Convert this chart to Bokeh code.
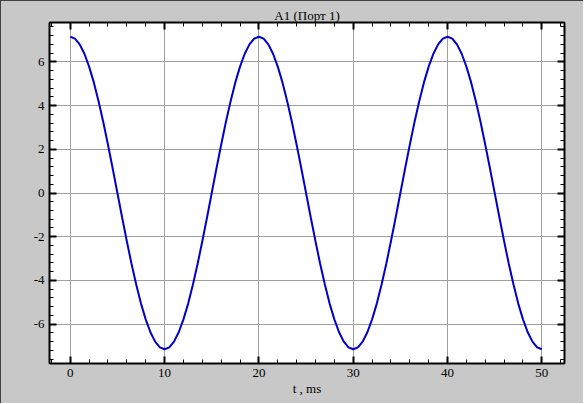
from bokeh.plotting import figure
from bokeh.models import LinearAxis, SingleIntervalTicker, Range1d, CustomJSTickFormatter
from bokeh.embed import file_html
from bokeh.resources import INLINE

title_text = "A1 (Порт 1)"
x_label = "t , ms"

t_ms = [0.0, 0.5, 1.0, 1.5, 2.0, 2.5, 3.0, 3.5, 4.0, 4.5,
        5.0, 5.5, 6.0, 6.5, 7.0, 7.5, 8.0, 8.5, 9.0, 9.5,
        10.0, 10.5, 11.0, 11.5, 12.0, 12.5, 13.0, 13.5, 14.0, 14.5,
        15.0, 15.5, 16.0, 16.5, 17.0, 17.5, 18.0, 18.5, 19.0, 19.5,
        20.0, 20.5, 21.0, 21.5, 22.0, 22.5, 23.0, 23.5, 24.0, 24.5,
        25.0, 25.5, 26.0, 26.5, 27.0, 27.5, 28.0, 28.5, 29.0, 29.5,
        30.0, 30.5, 31.0, 31.5, 32.0, 32.5, 33.0, 33.5, 34.0, 34.5,
        35.0, 35.5, 36.0, 36.5, 37.0, 37.5, 38.0, 38.5, 39.0, 39.5,
        40.0, 40.5, 41.0, 41.5, 42.0, 42.5, 43.0, 43.5, 44.0, 44.5,
        45.0, 45.5, 46.0, 46.5, 47.0, 47.5, 48.0, 48.5, 49.0, 49.5,
        50.0]

a1_values = [7.15, 7.06, 6.80, 6.37, 5.78, 5.06, 4.20, 3.25, 2.21, 1.12,
             0.00, -1.12, -2.21, -3.25, -4.20, -5.06, -5.78, -6.37, -6.80, -7.06,
             -7.15, -7.06, -6.80, -6.37, -5.78, -5.06, -4.20, -3.25, -2.21, -1.12,
             0.00, 1.12, 2.21, 3.25, 4.20, 5.06, 5.78, 6.37, 6.80, 7.06,
             7.15, 7.06, 6.80, 6.37, 5.78, 5.06, 4.20, 3.25, 2.21, 1.12,
             0.00, -1.12, -2.21, -3.25, -4.20, -5.06, -5.78, -6.37, -6.80, -7.06,
             -7.15, -7.06, -6.80, -6.37, -5.78, -5.06, -4.20, -3.25, -2.21, -1.12,
             0.00, 1.12, 2.21, 3.25, 4.20, 5.06, 5.78, 6.37, 6.80, 7.06,
             7.15, 7.06, 6.80, 6.37, 5.78, 5.06, 4.20, 3.25, 2.21, 1.12,
             0.00, -1.12, -2.21, -3.25, -4.20, -5.06, -5.78, -6.37, -6.80, -7.06,
             -7.15]

FONT = "Liberation Serif"
BG = "#c8c8c8"

p = figure(width=583, height=403, x_range=Range1d(-2.2, 52.4), y_range=Range1d(-7.8, 7.8),
           output_backend="svg", toolbar_location=None,
           min_border_left=48, min_border_right=20, min_border_top=21, min_border_bottom=41,
           styles={"border-left": "1px solid #404040", "border-top": "1px solid #404040",
                   "background-color": BG})
p.background_fill_color = "white"
p.border_fill_color = BG
p.outline_line_color = "black"
p.outline_line_width = 1

p.title.text = title_text
p.title.align = "center"
p.title.text_font = FONT
p.title.text_font_size = "13px"
p.title.text_font_style = "normal"
p.title.text_color = "black"
p.title.standoff = 0
p.title.offset = 0

xt = SingleIntervalTicker(interval=10, num_minor_ticks=5)
yt = SingleIntervalTicker(interval=2, num_minor_ticks=5)

num_fmt = CustomJSTickFormatter(code="return tick.toFixed(0);")


def style_axis(ax, labels=True):
    ax.axis_line_color = "black"
    ax.axis_line_width = 2
    ax.major_tick_in = 7
    ax.major_tick_out = 0
    ax.minor_tick_in = 4
    ax.minor_tick_out = 0
    ax.major_tick_line_width = 2
    ax.major_tick_line_color = "black"
    ax.minor_tick_line_width = 1
    ax.minor_tick_line_color = "black"
    ax.major_label_text_font = FONT
    ax.major_label_text_color = "black"
    ax.major_label_text_font_size = "13px"
    if labels:
        ax.formatter = num_fmt
        ax.major_label_standoff = 5
    else:
        ax.formatter = CustomJSTickFormatter(code="return '';")
        ax.major_label_standoff = 0


p.xaxis.ticker = xt
p.yaxis.ticker = yt
style_axis(p.xaxis[0])
style_axis(p.yaxis[0])
p.xaxis.axis_label = x_label
p.xaxis.axis_label_text_font = FONT
p.xaxis.axis_label_text_font_size = "13px"
p.xaxis.axis_label_text_font_style = "normal"
p.xaxis.axis_label_text_color = "black"
p.xaxis.axis_label_standoff = 1

top_axis = LinearAxis(ticker=xt)
style_axis(top_axis, labels=False)
p.add_layout(top_axis, "above")
right_axis = LinearAxis(ticker=yt)
style_axis(right_axis, labels=False)
p.add_layout(right_axis, "right")

p.xgrid.ticker = xt
p.ygrid.ticker = yt
p.xgrid.grid_line_color = "#a0a0a0"
p.ygrid.grid_line_color = "#a0a0a0"

p.line(t_ms, a1_values, line_color="#0000cc", line_width=2)

open("out.html", "w").write(file_html(p, INLINE))
